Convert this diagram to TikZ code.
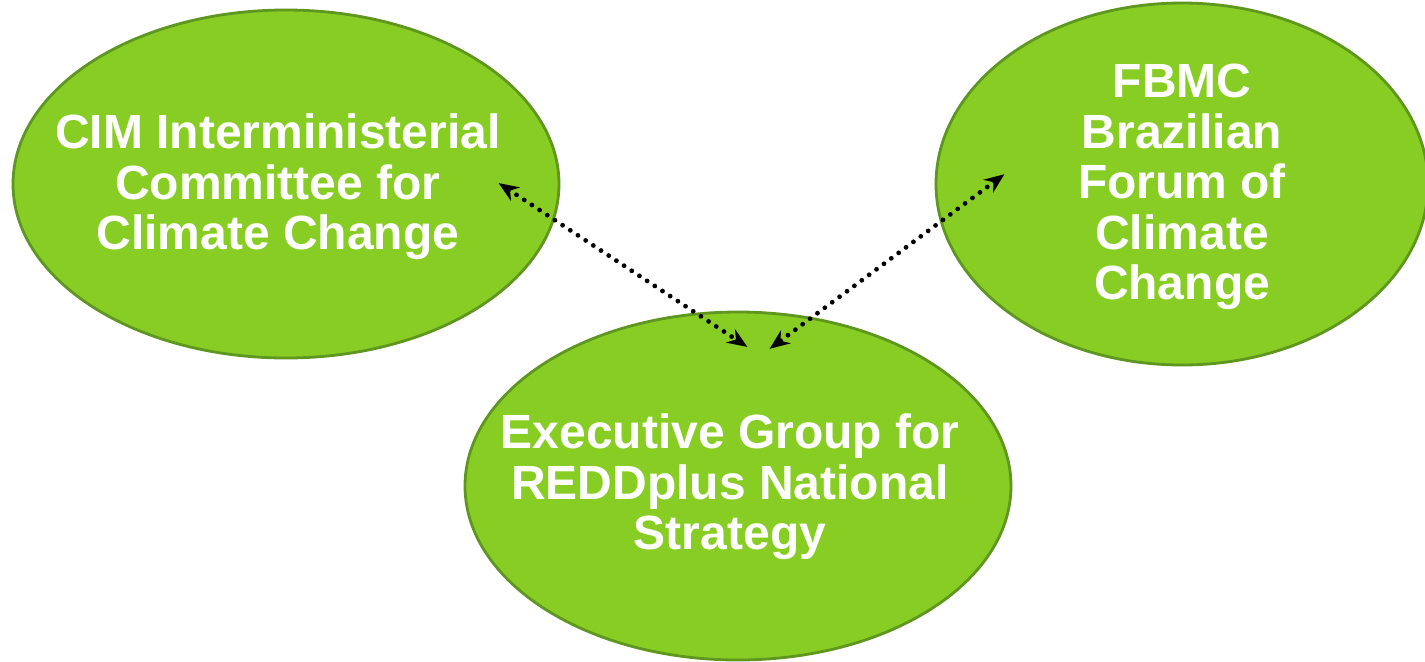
\documentclass[tikz,border=0pt]{standalone}
\usepackage{fontspec}
\setmainfont{Liberation Sans}
\usetikzlibrary{shapes.geometric,arrows.meta}
\definecolor{leafgreen}{RGB}{136,205,36}
\definecolor{leafedge}{RGB}{94,150,32}
\begin{document}
\begin{tikzpicture}[x=0.5pt,y=-0.5pt,
  bubble/.style={ellipse,draw=leafedge,line width=1.4pt,fill=leafgreen,inner sep=0pt},
  caption/.style={text=white,font=\bfseries\fontsize{24}{25.3}\selectfont,align=center},
  link/.style={<->,>={Stealth[length=10pt,width=8pt]},line width=2.4pt,
    line cap=round,dash pattern=on 0pt off 4.6pt,shorten <=1pt,shorten >=1pt}]
\useasboundingbox (0,0) rectangle (1425,661);
% the three bodies
\node[bubble,minimum width=273pt,minimum height=174pt] (cim) at (286,184) {};
\node[bubble,minimum width=246pt,minimum height=181pt] (fbmc) at (1182,184) {};
\node[bubble,minimum width=273pt,minimum height=174pt] (redd) at (738,486) {};
\node[caption] (cimtext) at (278,187)
  {CIM Interministerial\\Committee for\\Climate Change};
\node[caption] (fbmctext) at (1182,187)
  {FBMC\\Brazilian\\Forum of\\Climate\\Change};
\node[caption] (reddtext) at (730,487)
  {Executive Group for\\REDDplus National\\Strategy};
% arrow ends
\coordinate (cimend) at (497,182);
\coordinate (fbmcend) at (1006,173);
\coordinate (reddleft) at (749,348);
\coordinate (reddright) at (768,350);
\draw[link] (cimend) -- (reddleft);
\draw[link] (fbmcend) -- (reddright);
\end{tikzpicture}
\end{document}
